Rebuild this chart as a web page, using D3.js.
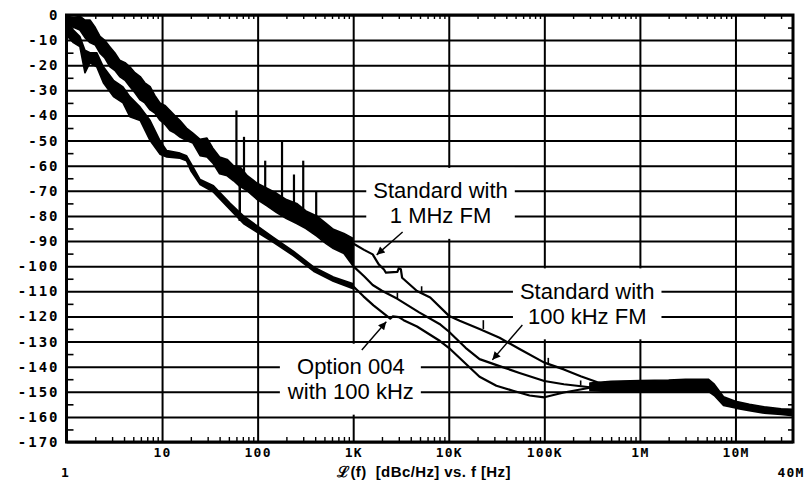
<!DOCTYPE html>
<html><head><meta charset="utf-8">
<script src="https://cdn.jsdelivr.net/npm/d3@7"></script>
<style>body{margin:0;background:#fff}svg{display:block}</style>
</head><body><div id="chart"></div>
<script>
// ---------- axis ticks / labels ----------
const yTickValues = [0,-10,-20,-30,-40,-50,-60,-70,-80,-90,-100,-110,-120,-130,-140,-150,-160,-170];
const yTickLabels = ["0","-10","-20","-30","-40","-50","-60","-70","-80","-90","-100","-110","-120","-130","-140","-150","-160","-170"];
const xTickValues = [10,100,1e3,1e4,1e5,1e6,1e7];
const xTickLabels = ["10","100","1K","10K","100K","1M","10M"];
const xEndValues = [1,4e7];
const xEndLabels = ["1","40M"];
const axisTitle = "\u2112(f)  [dBc/Hz] vs. f [Hz]";

// ---------- noisy band: both "Standard" curves overlapping (1 Hz .. 1 kHz) ----------
const bandFreq = [1,1.2,1.38,1.56,1.76,2.0,2.24,2.5,2.85,3.2,3.6,4.1,4.6,5.2,5.9,6.6,7.5,8.4,9.5,10.7,12.1,13.6,15.4,18,21,25,29.5,34,40,48,56,65,78,99,125,158,200,256,320,415,520,620,800,1000];
const bandHi   = [-0.5,-1,-0.5,-2,-2,-5,-8.5,-10,-12.7,-15,-18,-19,-20.6,-23,-24.5,-27,-28.5,-32,-35,-36,-38,-40,-42,-45,-47,-49.5,-49,-53,-56.5,-57.5,-60,-60.3,-64,-67,-69,-71,-73.5,-75,-78,-80,-83,-85.3,-87,-89];
const bandLo   = [-3.5,-5,-6,-9,-11,-12,-15.2,-17,-20.6,-22,-24.5,-26,-28.5,-31,-33.8,-35,-37.8,-39,-41.9,-43.5,-46,-47,-48.6,-50,-51,-56,-56.5,-59,-63.2,-64,-66,-68.2,-70,-73.5,-76,-78.7,-81,-83,-85,-88,-91,-93,-95,-100];
// 60 Hz related spurs on the Standard curves
const spurFreq = [60,72,120,180,240,300,410];
const spurTop  = [-38,-48.5,-58,-50.5,-63.5,-58,-70.3];
const spurBase = [-64,-66,-72,-76,-79,-81,-84];

// ---------- noisy Option 004 curve (1 Hz .. 1 kHz) ----------
const optFreq = [1.0,1.18,1.38,1.56,1.76,2.07,2.43,3.1,3.9,4.6,5.9,7.5,9.5,11.2,15.4,18,20,25,34.5,51.6,71,99,146,236,385,620,1000];
const optHi   = [-3,-6,-8.6,-14,-15,-15,-20.6,-26,-28.6,-32.5,-36.7,-42,-50,-54,-55,-56,-59,-65.5,-68,-75,-80,-84,-88.5,-94,-100.3,-104.3,-107];
const optLo   = [-8,-11,-12.6,-23,-19,-20.6,-27,-32.5,-35,-40.5,-42,-50,-55.4,-56.5,-57,-58,-62,-67.5,-70.5,-77.5,-83,-86.5,-90.5,-95.8,-102,-106,-109];
const optSpurFreq = [65];
const optSpurTop  = [-67];
const optSpurBase = [-82];

// ---------- clean traces above 1 kHz ----------
const std1MHzFreq = [1000,1300,1600,1700,1850,2100,2200,2900,3000,3150,3250,4650,6400,10000,13000,21000,34000,55000,100000,160000,240000,360000,500000];
const std1MHzDb   = [-91,-93.5,-95.3,-97,-99.3,-101.3,-102.6,-102.3,-100.8,-101.2,-104.6,-109.9,-112.5,-119.7,-121.7,-125,-128.5,-133,-138.4,-141.1,-143.8,-146.2,-147.5];
const std100kFreq = [1000,1300,1600,2000,2900,4900,8000,10000,15000,21000,34000,55000,100000,160000,300000,400000];
const std100kDb   = [-100,-104,-107.5,-109.8,-113,-118.4,-123,-126,-132.5,-137,-139.8,-142.5,-145.7,-147,-148.2,-148];
const opt004Freq  = [1000,1280,1630,2440,2600,3000,3370,4650,8100,10000,21000,31500,47000,70000,100000,160000,300000,400000];
const opt004Db    = [-108,-112,-115.6,-120.9,-120,-120.3,-121.5,-124,-129.8,-132.5,-144,-147.6,-149.6,-151.5,-152.2,-150.3,-148.4,-148];
// small spurs on the clean traces
const minorSpurFreq = [5200,23000,110000,2900,240000];
const minorSpurBase = [-111,-125,-139,-113,-147.5];
const minorSpurTop  = [-108,-121.5,-136.5,-110.5,-145.5];

// ---------- common plateau (all three traces) ----------
const plateauFreq = [300e3,500e3,1e6,2e6,3e6,4e6,5.2e6,6e6,7.5e6,1e7,1.4e7,2e7,3e7,4e7];
const plateauHi   = [-146.5,-145.8,-145.5,-145.3,-145,-145,-145,-147,-152,-153.8,-155,-156,-156.8,-157];
const plateauLo   = [-149.5,-150,-150,-150,-150,-149.8,-149.8,-151.5,-155.5,-156.5,-157.5,-158.5,-159,-159.5];

// ---------- annotations ----------
const annotations = [
  {lines:["Standard with","1 MHz FM"], f:8200, db:[-70,-80], arrowFrom:[3290,-86.4], arrowTo:[1760,-95.5]},
  {lines:["Standard with","100 kHz FM"], f:281000, db:[-110,-120], arrowFrom:[58900,-123.4], arrowTo:[28600,-137.3]},
  {lines:["Option 004","with 100 kHz"], f:945, db:[-140,-150], arrowFrom:[1230,-133.4], arrowTo:[2220,-122.1]}
];

// ================= drawing =================
const W = 808, H = 483;
const L = 66.5, R = 793, T = 15, B = 442;
const svg = d3.select("#chart").append("svg").attr("width", W).attr("height", H);
svg.append("rect").attr("width", W).attr("height", H).attr("fill", "#fff");

const x = d3.scaleLog().domain([1, 4e7]).range([L, R]);
const y = d3.scaleLinear().domain([0, -170]).range([T, B]);

const gGrid = svg.append("g");
const gBoxes = svg.append("g");
const gFrame = svg.append("g");
const gCurves = svg.append("g");
const gArrows = svg.append("g");
const gText = svg.append("g");

function styleAxis(g, w) {
  g.select(".domain").remove();
  g.selectAll("line").attr("stroke", "#000").attr("stroke-width", w);
}

// grid lines
const gy = gGrid.append("g").attr("transform", `translate(${L},0)`)
  .call(d3.axisLeft(y).tickValues(yTickValues).tickSize(-(R - L)).tickFormat(""));
styleAxis(gy, 2);
const gx = gGrid.append("g").attr("transform", `translate(0,${B})`)
  .call(d3.axisBottom(x).tickValues(xTickValues).tickSize(-(B - T)).tickFormat(""));
styleAxis(gx, 2);

// minor ticks
const minorY = yTickValues.slice(0, -1).map(v => v - 5);
const minorX = [];
for (let k = 0; k <= 7; k++) for (let m = 2; m <= 9; m++) { const v = m * Math.pow(10, k); if (v < 4e7) minorX.push(v); }
styleAxis(gFrame.append("g").attr("transform", `translate(${L},0)`).call(d3.axisLeft(y).tickValues(minorY).tickSize(-7).tickFormat("")), 1.6);
styleAxis(gFrame.append("g").attr("transform", `translate(${R},0)`).call(d3.axisRight(y).tickValues(minorY).tickSize(-5).tickFormat("")), 1.6);
styleAxis(gFrame.append("g").attr("transform", `translate(0,${B})`).call(d3.axisBottom(x).tickValues(minorX).tickSize(-5).tickFormat("")), 1.4);
styleAxis(gFrame.append("g").attr("transform", `translate(0,${T})`).call(d3.axisTop(x).tickValues(minorX).tickSize(-4).tickFormat("")), 1.4);

// frame
gFrame.append("rect").attr("x", L).attr("y", T).attr("width", R - L).attr("height", B - T)
  .attr("fill", "none").attr("stroke", "#000").attr("stroke-width", 3);

// tick labels
const tickFont = "'DejaVu Sans Mono', monospace";
const yl = gText.append("g").attr("transform", `translate(${L},0)`)
  .call(d3.axisLeft(y).tickValues(yTickValues).tickSize(0).tickPadding(7).tickFormat((d, i) => yTickLabels[i]));
yl.select(".domain").remove();
yl.selectAll("text").attr("font-family", tickFont).attr("font-weight", "bold").attr("font-size", 14)
  .attr("letter-spacing", "2px").attr("fill", "#000");
const xl = gText.append("g").attr("transform", `translate(0,${B})`)
  .call(d3.axisBottom(x).tickValues(xTickValues).tickSize(0).tickPadding(6).tickFormat((d, i) => xTickLabels[i]));
xl.select(".domain").remove();
xl.selectAll("text").attr("font-family", tickFont).attr("font-weight", "bold").attr("font-size", 13)
  .attr("letter-spacing", "1.2px").attr("fill", "#000");
gText.selectAll("text.endlab").data(xEndValues).join("text").attr("class", "endlab")
  .attr("x", (d, i) => x(d) + (i === 0 ? -1 : -2)).attr("y", 477)
  .attr("text-anchor", "middle").attr("font-family", tickFont).attr("font-weight", "bold")
  .attr("font-size", 13).attr("letter-spacing", "1.2px").text((d, i) => xEndLabels[i]);
gText.append("text").attr("x", 337).attr("y", 477)
  .attr("font-family", "'Liberation Sans', Arial, sans-serif").attr("font-weight", "bold")
  .attr("font-size", 15).attr("letter-spacing", "0.4px")
  .attr("xml:space", "preserve").style("white-space", "pre").text(axisTitle);

// ---------- curves ----------
const zip3 = (f, a, b) => f.map((v, i) => ({f: v, hi: a[i], lo: b[i]}));
const zip2 = (f, a) => f.map((v, i) => ({f: v, db: a[i]}));
const area = d3.area().x(d => x(d.f)).y0(d => y(d.lo)).y1(d => y(d.hi));
const line = d3.line().x(d => x(d.f)).y(d => y(d.db));

[zip3(bandFreq, bandHi, bandLo), zip3(optFreq, optHi, optLo), zip3(plateauFreq, plateauHi, plateauLo)]
  .forEach(d => gCurves.append("path").attr("d", area(d)).attr("fill", "#000")
    .attr("stroke", "#000").attr("stroke-width", 1.6).attr("stroke-linejoin", "round"));

[zip2(std1MHzFreq, std1MHzDb), zip2(std100kFreq, std100kDb), zip2(opt004Freq, opt004Db)]
  .forEach(d => gCurves.append("path").attr("d", line(d)).attr("fill", "none")
    .attr("stroke", "#000").attr("stroke-width", 2.2).attr("stroke-linejoin", "round"));

function spurs(fs, base, top, w) {
  gCurves.append("g").selectAll("line").data(fs).join("line")
    .attr("x1", d => x(d)).attr("x2", d => x(d))
    .attr("y1", (d, i) => y(base[i])).attr("y2", (d, i) => y(top[i]))
    .attr("stroke", "#000").attr("stroke-width", w);
}
spurs(spurFreq, spurBase, spurTop, 2.2);
spurs(optSpurFreq, optSpurBase, optSpurTop, 2.5);
spurs(minorSpurFreq, minorSpurBase, minorSpurTop, 1.6);

// ---------- annotations ----------
svg.append("defs").append("marker").attr("id", "ah").attr("viewBox", "0 0 10 10")
  .attr("refX", 10).attr("refY", 5).attr("markerWidth", 11).attr("markerHeight", 8)
  .attr("markerUnits", "userSpaceOnUse").attr("orient", "auto")
  .append("path").attr("d", "M0,0 L10,5 L0,10 Z").attr("fill", "#000");

annotations.forEach(a => {
  const g = gText.append("g");
  a.lines.forEach((t, i) => {
    g.append("text").attr("x", x(a.f)).attr("y", y(a.db[i]) + 7.5)
      .attr("text-anchor", "middle").attr("font-family", "'Liberation Sans', Arial, sans-serif")
      .attr("font-size", 22).attr("fill", "#000").text(t);
  });
  const bb = g.node().getBBox();
  gBoxes.append("rect").attr("x", bb.x - 7).attr("width", bb.width + 14)
    .attr("y", y(a.db[0] + 10) + 2.2).attr("height", y(a.db[1] - 10) - y(a.db[0] + 10) - 4.4)
    .attr("fill", "#fff");
  gArrows.append("line")
    .attr("x1", x(a.arrowFrom[0])).attr("y1", y(a.arrowFrom[1]))
    .attr("x2", x(a.arrowTo[0])).attr("y2", y(a.arrowTo[1]))
    .attr("stroke", "#000").attr("stroke-width", 1.4).attr("marker-end", "url(#ah)");
});
</script></body></html>
